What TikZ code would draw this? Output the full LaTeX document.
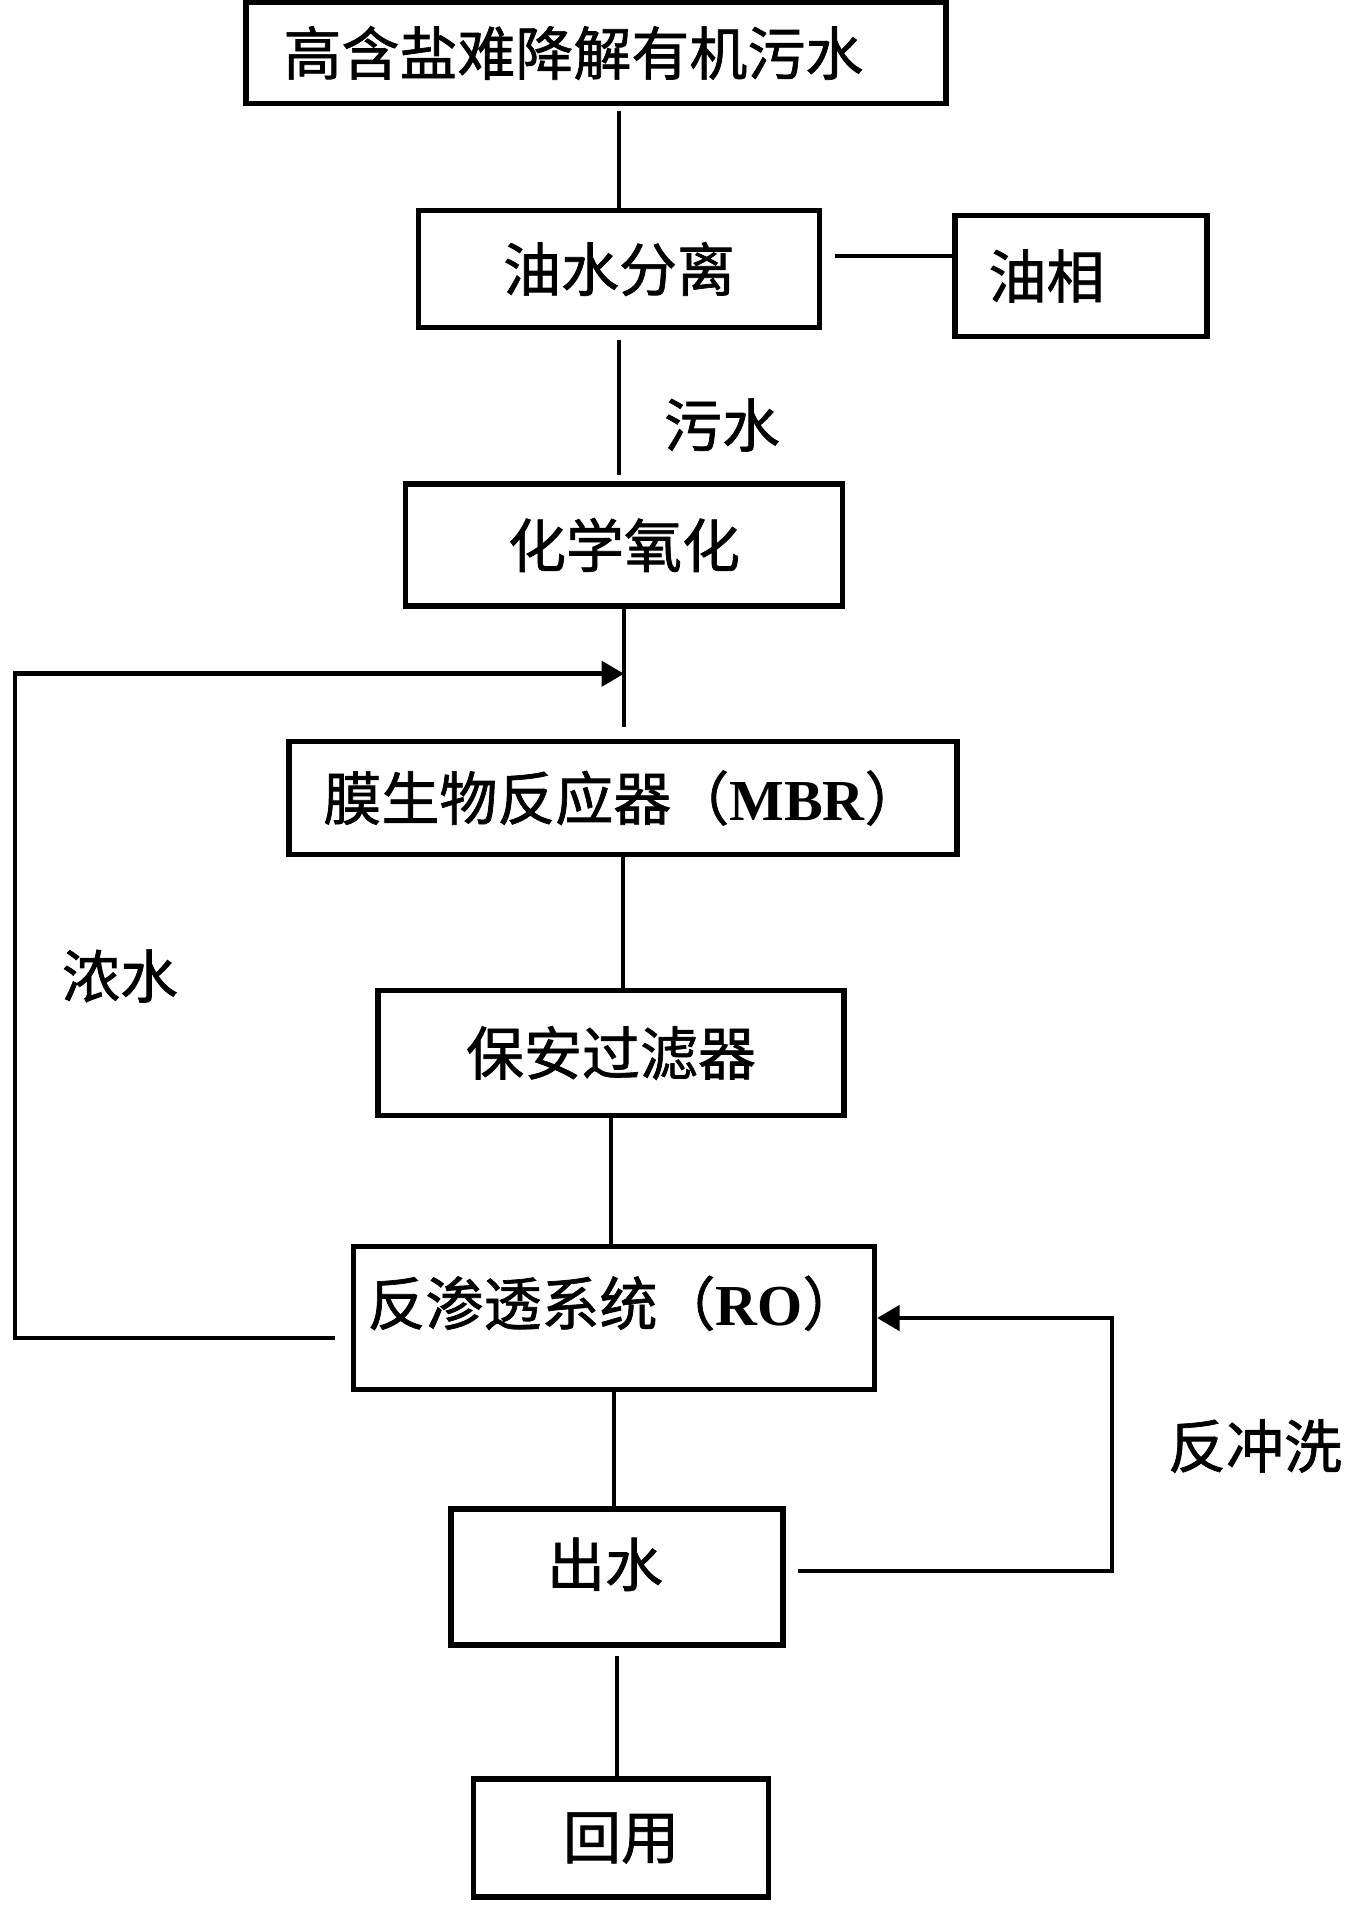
\documentclass[tikz,border=0pt]{standalone}
\usepackage{fontspec}
\setmainfont{Noto Sans CJK SC}[FakeBold=1.2,AutoFakeBold=1.2]
\newfontfamily\latinfont{Liberation Serif}
\usetikzlibrary{arrows.meta,calc}
\newcommand\flowfont{\fontsize{33}{40}\selectfont\bfseries}
\newcommand\Abbr[1]{{\latinfont\bfseries #1}}

\begin{document}
\begin{tikzpicture}[x=0.02cm,y=-0.02cm,
    box/.style={draw,line width=3pt,inner sep=0pt,font=\flowfont},
    pipe/.style={line width=2.2pt},
    recycle/.style={line width=2.6pt,-{Triangle[length=0.45cm,width=0.5cm]}},
    note/.style={font=\flowfont}]
    \useasboundingbox (0,0) rectangle (1352,1912);
    % stages
    \node[box,minimum width=14.0cm,minimum height=2.02cm,text width=12.5cm,align=left] (src) at (596,53) {高含盐难降解有机污水};
    \node[box,minimum width=8.02cm,minimum height=2.34cm] (sep) at (619,269) {油水分离};
    \node[box,minimum width=5.04cm,minimum height=2.42cm,text width=3.7cm,align=left] (oil) at (1081,276) {油相};
    \node[box,minimum width=8.74cm,minimum height=2.44cm] (ox) at (624,545) {化学氧化};
    \node[box,minimum width=13.36cm,minimum height=2.26cm] (mbr) at (623,798) {膜生物反应器（\Abbr{MBR}）};
    \node[box,minimum width=9.32cm,minimum height=2.5cm] (filt) at (611,1053) {保安过滤器};
    \node[box,minimum width=10.42cm,minimum height=2.86cm,text depth=0.7cm] (ro) at (614,1318) {反渗透系统（\Abbr{RO}）};
    \node[box,minimum width=6.64cm,minimum height=2.72cm,text depth=0.6cm,text width=2.8cm,align=left] (out) at (617,1577) {出水};
    \node[box,minimum width=5.9cm,minimum height=2.36cm] (reuse) at (621,1838) {回用};
    % labels
    \node[note] (sewage) at (722,425) {污水};
    \node[note] (brine) at (120,976) {浓水};
    \node[note] (flush) at (1255,1446) {反冲洗};
    % main line
    \draw[pipe,shorten <=0.1cm] (src.south -| sep.north) -- (sep.north);
    \draw[line width=2.6pt,shorten <=0.26cm] ([yshift=0.26cm]sep.east) -- ([yshift=0.26cm]sep.east -| oil.west);
    \draw[pipe,shorten <=0.2cm,shorten >=0.12cm] (sep.south) -- (sep.south |- ox.north);
    \draw[pipe,shorten >=0.24cm] (ox.south) -- (ox.south |- mbr.north);
    \coordinate (merge) at ($(ox.south)!0.5!(ox.south |- mbr.north)$);
    \draw[pipe] (mbr.south) -- (mbr.south |- filt.north);
    \draw[pipe] (filt.south) -- (filt.south |- ro.north);
    \draw[pipe] (ro.south) -- (ro.south |- out.north);
    \draw[pipe,shorten <=0.16cm] (out.south) -- (out.south |- reuse.north);
    % recycle loops
    \coordinate (leftrail) at (15,0);
    \coordinate (rightrail) at (1112,0);
    \draw[recycle,shorten <=0.32cm] ([yshift=-0.4cm]ro.west) -- ([yshift=-0.4cm]ro.west -| leftrail) |- (merge);
    \draw[recycle,shorten <=0.24cm] ([yshift=0.12cm]out.east) -- ([yshift=0.12cm]out.east -| rightrail) |- ([yshift=0cm]ro.east);
\end{tikzpicture}
\end{document}
